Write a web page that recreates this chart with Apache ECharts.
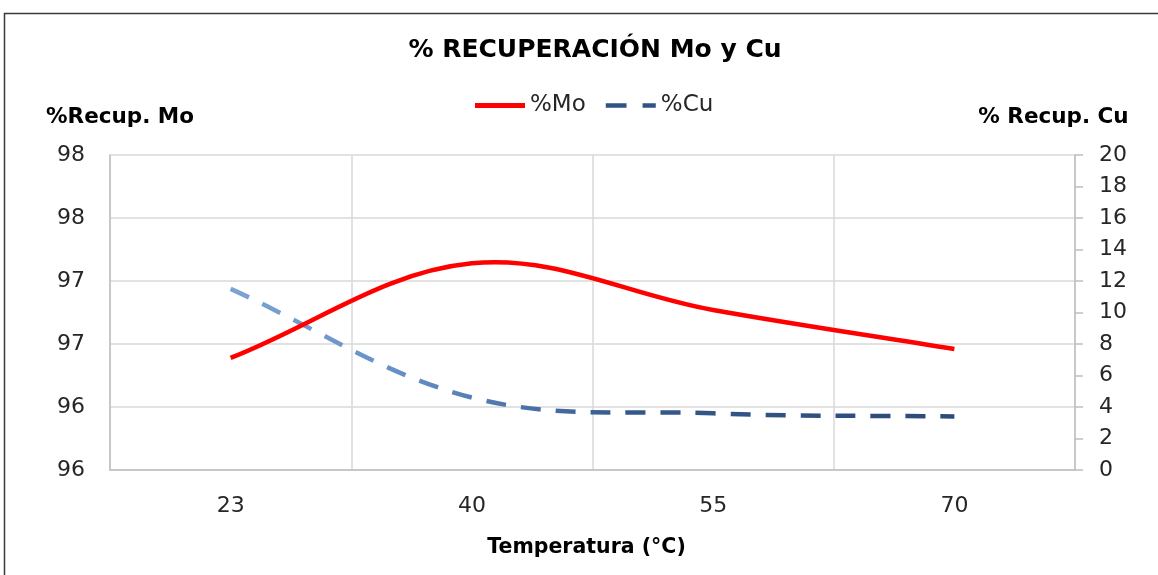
<!DOCTYPE html>
<html>
<head>
<meta charset="utf-8">
<title>% RECUPERACIÓN Mo y Cu</title>
<script src="https://cdn.jsdelivr.net/npm/echarts@6/dist/echarts.min.js"></script>
<style>
  html, body { margin: 0; padding: 0; background: #ffffff; }
  #chart { width: 1158px; height: 575px; }
</style>
</head>
<body>
<div id="chart"></div>
<script>
// Temperatures (°C) and recovery percentages
const temperatures = ['23', '40', '55', '70'];
const recoveryMo = [96.39, 97.14, 96.77, 96.46];
const recoveryCu = [11.5, 4.6, 3.6, 3.4];

// Left axis steps (labels are shown rounded to whole numbers)
const moAxisMin = 95.5;
const moAxisMax = 98;
const moAxisStep = 0.5;
// Right axis
const cuAxisMin = 0;
const cuAxisMax = 20;
const cuAxisStep = 2;

const FONT = '"DejaVu Sans", "Open Sans", sans-serif';
const TEXT = '#262626';
const GRID_LINE = '#d9d9d9';
const AXIS_LINE = '#bfbfbf';
const MO_COLOR = '#ff0000';
const CU_COLOR = '#2f5384';
// Tension of the spreadsheet-style smoothed curve
const SMOOTH = 0.36;

const chart = echarts.init(document.getElementById('chart'), null, { renderer: 'canvas' });

// Cu line fades from light blue to navy along the temperature axis
const cuGradient = new echarts.graphic.LinearGradient(0, 0, 1, 0, [
  { offset: 0, color: '#7ba3d4' },
  { offset: 0.22, color: '#6891c8' },
  { offset: 0.4, color: '#4c74ab' },
  { offset: 0.55, color: '#35588b' },
  { offset: 1, color: '#2c4a7a' }
]);

function dist(a, b) {
  return Math.hypot(b[0] - a[0], b[1] - a[1]);
}

// Smooth Bezier path through the points of one series; every value is
// projected through the series' own axes. Tangents are weighted by the
// lengths of the neighbouring segments.
function smoothPathData(values, api) {
  const pts = values.map((v, i) => api.coord([i, v]));
  const n = pts.length;
  let d = 'M' + pts[0][0] + ',' + pts[0][1];
  for (let i = 0; i < n - 1; i++) {
    const p0 = pts[Math.max(i - 1, 0)];
    const p1 = pts[i];
    const p2 = pts[i + 1];
    const p3 = pts[Math.min(i + 2, n - 1)];
    const dA = dist(p0, p1);
    const dB = dist(p1, p2);
    const dC = dist(p2, p3);
    const r1 = SMOOTH * dB / (dA + dB);
    const r2 = SMOOTH * dB / (dB + dC);
    const c1x = p1[0] + r1 * (p2[0] - p0[0]);
    const c1y = p1[1] + r1 * (p2[1] - p0[1]);
    const c2x = p2[0] - r2 * (p3[0] - p1[0]);
    const c2y = p2[1] - r2 * (p3[1] - p1[1]);
    d += ' C' + c1x + ',' + c1y + ' ' + c2x + ',' + c2y + ' ' + p2[0] + ',' + p2[1];
  }
  return d;
}

function curveSeries(name, values, yAxisIndex, stroke, legendColor, dash, z) {
  return {
    name: name,
    type: 'custom',
    coordinateSystem: 'cartesian2d',
    yAxisIndex: yAxisIndex,
    data: values.map((v, i) => [i, v]),
    encode: { x: 0, y: 1 },
    itemStyle: { color: legendColor },
    z: z,
    silent: true,
    renderItem: function (params, api) {
      if (params.dataIndex !== 0) return null;
      return {
        type: 'path',
        shape: { pathData: smoothPathData(values, api) },
        style: {
          fill: null,
          stroke: stroke,
          lineWidth: 4.5,
          lineDash: dash,
          lineCap: 'butt',
          lineJoin: 'round'
        }
      };
    }
  };
}

chart.setOption({
  backgroundColor: '#ffffff',
  textStyle: { fontFamily: FONT },
  animation: false,
  title: {
    text: '% RECUPERACIÓN Mo y Cu',
    left: 595,
    textAlign: 'center',
    top: 38,
    padding: 0,
    textStyle: { fontFamily: FONT, fontSize: 25, fontWeight: 'bold', color: '#000000' }
  },
  legend: {
    left: 475,
    top: 94,
    padding: 0,
    itemWidth: 50,
    itemHeight: 5,
    itemGap: 20,
    textStyle: { fontFamily: FONT, fontSize: 23, color: TEXT },
    data: [
      { name: '%Mo', icon: 'rect' },
      { name: '%Cu', icon: 'path://M0,0H22V5H0Z M39,0H53V5H39Z' }
    ]
  },
  grid: { left: 110, right: 83, top: 155, bottom: 105 },
  xAxis: {
    type: 'category',
    data: temperatures,
    boundaryGap: true,
    name: 'Temperatura (°C)',
    nameLocation: 'middle',
    nameGap: 78,
    nameTextStyle: {
      fontFamily: FONT, fontSize: 20.5, fontWeight: 'bold', color: '#000000',
      verticalAlign: 'middle', padding: [0, 12, 0, 0]
    },
    axisLine: { show: true, lineStyle: { color: AXIS_LINE, width: 1.5 } },
    axisTick: { show: false },
    axisLabel: { fontFamily: FONT, fontSize: 22, color: TEXT, margin: 25 },
    splitLine: { show: true, lineStyle: { color: GRID_LINE, width: 1.5 } }
  },
  yAxis: [
    {
      type: 'value',
      position: 'left',
      min: moAxisMin,
      max: moAxisMax,
      interval: moAxisStep,
      name: '%Recup. Mo',
      nameLocation: 'end',
      nameGap: 38,
      nameTextStyle: {
        fontFamily: FONT, fontSize: 21.5, fontWeight: 'bold', color: '#000000',
        align: 'center', verticalAlign: 'middle', padding: [0, 0, 0, 20]
      },
      axisLine: { show: true, lineStyle: { color: AXIS_LINE, width: 1.5 } },
      axisTick: { show: false },
      axisLabel: {
        fontFamily: FONT, fontSize: 22, color: TEXT, margin: 25,
        formatter: v => String(Math.round(v))
      },
      splitLine: { show: true, lineStyle: { color: GRID_LINE, width: 1.5 } }
    },
    {
      type: 'value',
      position: 'right',
      min: cuAxisMin,
      max: cuAxisMax,
      interval: cuAxisStep,
      name: '% Recup. Cu',
      nameLocation: 'end',
      nameGap: 38,
      nameTextStyle: {
        fontFamily: FONT, fontSize: 21.5, fontWeight: 'bold', color: '#000000',
        align: 'center', verticalAlign: 'middle', padding: [0, 43, 0, 0]
      },
      axisLine: { show: true, lineStyle: { color: AXIS_LINE, width: 1.5 } },
      axisTick: { show: true, inside: false, length: 8, lineStyle: { color: AXIS_LINE, width: 1.5 } },
      axisLabel: { fontFamily: FONT, fontSize: 22, color: TEXT, margin: 24 },
      splitLine: { show: false }
    }
  ],
  series: [
    curveSeries('%Mo', recoveryMo, 0, MO_COLOR, MO_COLOR, null, 3),
    curveSeries('%Cu', recoveryCu, 1, cuGradient, CU_COLOR, [20, 15], 2)
  ],
  graphic: [
    {
      type: 'polyline',
      silent: true,
      shape: { points: [[4.5, 575], [4.5, 13.5], [1158, 13.5]] },
      style: { stroke: '#3a3a3a', lineWidth: 1.5, fill: null }
    }
  ]
});
</script>
</body>
</html>
